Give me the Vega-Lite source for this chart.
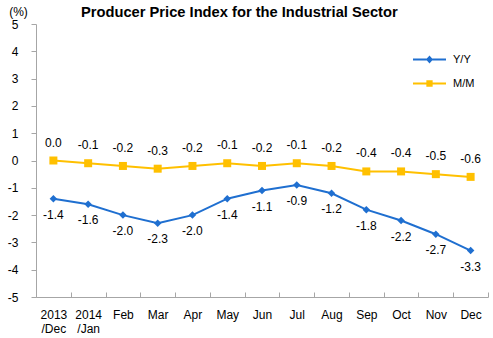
{
  "$schema": "https://vega.github.io/schema/vega-lite/v6.json",
  "width": 452,
  "height": 273,
  "autosize": "none",
  "padding": {"left": 36, "top": 24, "right": 5, "bottom": 41},
  "config": {
    "view": {"stroke": null},
    "font": "Liberation Sans",
    "locale": {"number": {"decimal": ".", "thousands": ",", "grouping": [3], "currency": ["$", ""], "minus": "-"}}
  },
  "title": {
    "text": "Producer Price Index for the Industrial Sector",
    "anchor": "start",
    "frame": "group",
    "dx": 45,
    "offset": -30,
    "baseline": "bottom",
    "fontSize": 14.7,
    "fontWeight": "bold",
    "color": "#000000"
  },
  "data": {
    "values": [
      {"month": "2013 /Dec", "series": "Y/Y", "value": -1.4},
      {"month": "2014 /Jan", "series": "Y/Y", "value": -1.6},
      {"month": "Feb", "series": "Y/Y", "value": -2.0},
      {"month": "Mar", "series": "Y/Y", "value": -2.3},
      {"month": "Apr", "series": "Y/Y", "value": -2.0},
      {"month": "May", "series": "Y/Y", "value": -1.4},
      {"month": "Jun", "series": "Y/Y", "value": -1.1},
      {"month": "Jul", "series": "Y/Y", "value": -0.9},
      {"month": "Aug", "series": "Y/Y", "value": -1.2},
      {"month": "Sep", "series": "Y/Y", "value": -1.8},
      {"month": "Oct", "series": "Y/Y", "value": -2.2},
      {"month": "Nov", "series": "Y/Y", "value": -2.7},
      {"month": "Dec", "series": "Y/Y", "value": -3.3},
      {"month": "2013 /Dec", "series": "M/M", "value": 0.0},
      {"month": "2014 /Jan", "series": "M/M", "value": -0.1},
      {"month": "Feb", "series": "M/M", "value": -0.2},
      {"month": "Mar", "series": "M/M", "value": -0.3},
      {"month": "Apr", "series": "M/M", "value": -0.2},
      {"month": "May", "series": "M/M", "value": -0.1},
      {"month": "Jun", "series": "M/M", "value": -0.2},
      {"month": "Jul", "series": "M/M", "value": -0.1},
      {"month": "Aug", "series": "M/M", "value": -0.2},
      {"month": "Sep", "series": "M/M", "value": -0.4},
      {"month": "Oct", "series": "M/M", "value": -0.4},
      {"month": "Nov", "series": "M/M", "value": -0.5},
      {"month": "Dec", "series": "M/M", "value": -0.6}
    ]
  },
  "encoding": {
    "x": {
      "field": "month",
      "type": "ordinal",
      "sort": null,
      "scale": {"type": "band", "paddingInner": 0, "paddingOuter": 0},
      "axis": {
        "title": null,
        "labelAngle": 0,
        "labelExpr": "split(datum.label, ' ')",
        "labelFontSize": 12,
        "labelColor": "#000000",
        "labelPadding": 17,
        "labelLineHeight": 14,
        "tickBand": "extent",
        "tickSize": -5,
        "tickColor": "#a6a6a6",
        "domainColor": "#a6a6a6",
        "grid": false
      }
    },
    "y": {
      "field": "value",
      "type": "quantitative",
      "scale": {"domain": [-5, 5], "nice": false, "zero": false},
      "axis": {
        "values": [-5, -4, -3, -2, -1, 0, 1, 2, 3, 4, 5],
        "format": "d",
        "grid": false,
        "tickSize": 5,
        "tickColor": "#a6a6a6",
        "domainColor": "#a6a6a6",
        "labelFontSize": 12,
        "labelColor": "#000000",
        "labelPadding": 13,
        "title": "(%)",
        "titleAngle": 0,
        "titleFontSize": 12,
        "titleFontWeight": "normal",
        "titleColor": "#000000",
        "titleX": -18,
        "titleY": -13,
        "titleAlign": "center",
        "titleBaseline": "middle"
      }
    },
    "color": {
      "field": "series",
      "type": "nominal",
      "scale": {"domain": ["Y/Y", "M/M"], "range": ["#1F6FD0", "#FFC000"]},
      "legend": {
        "title": null,
        "orient": "none",
        "legendX": 376,
        "legendY": 18,
        "symbolSize": 1089,
        "symbolStrokeWidth": 2,
        "labelFontSize": 11,
        "labelColor": "#000000",
        "labelOffset": 6,
        "rowPadding": -20,
        "encode": {
          "symbols": {
            "update": {
              "shape": {"signal": "datum.value === 'Y/Y' ? 'M-1,0H1M-0.13,0L0,-0.15L0.13,0L0,0.15Z' : 'M-1,0H1M-0.13,-0.13H0.13V0.13H-0.13Z'"},
              "strokeWidth": {"value": 2}
            }
          }
        }
      }
    }
  },
  "layer": [
    {"mark": {"type": "line", "strokeWidth": 2}},
    {
      "transform": [{"filter": "datum.series === 'Y/Y'"}],
      "mark": {"type": "point", "filled": true, "opacity": 1, "shape": "diamond", "size": 56}
    },
    {
      "transform": [{"filter": "datum.series === 'M/M'"}],
      "mark": {"type": "point", "filled": true, "opacity": 1, "shape": "square", "size": 64}
    },
    {
      "transform": [{"filter": "datum.series === 'Y/Y'"}],
      "mark": {"type": "text", "dy": 16, "fontSize": 12, "baseline": "middle"},
      "encoding": {
        "text": {"field": "value", "type": "quantitative", "format": ".1f"},
        "color": {"value": "#000000"}
      }
    },
    {
      "transform": [{"filter": "datum.series === 'M/M'"}],
      "mark": {"type": "text", "dy": -18, "fontSize": 12, "baseline": "middle"},
      "encoding": {
        "text": {"field": "value", "type": "quantitative", "format": ".1f"},
        "color": {"value": "#000000"}
      }
    }
  ]
}
